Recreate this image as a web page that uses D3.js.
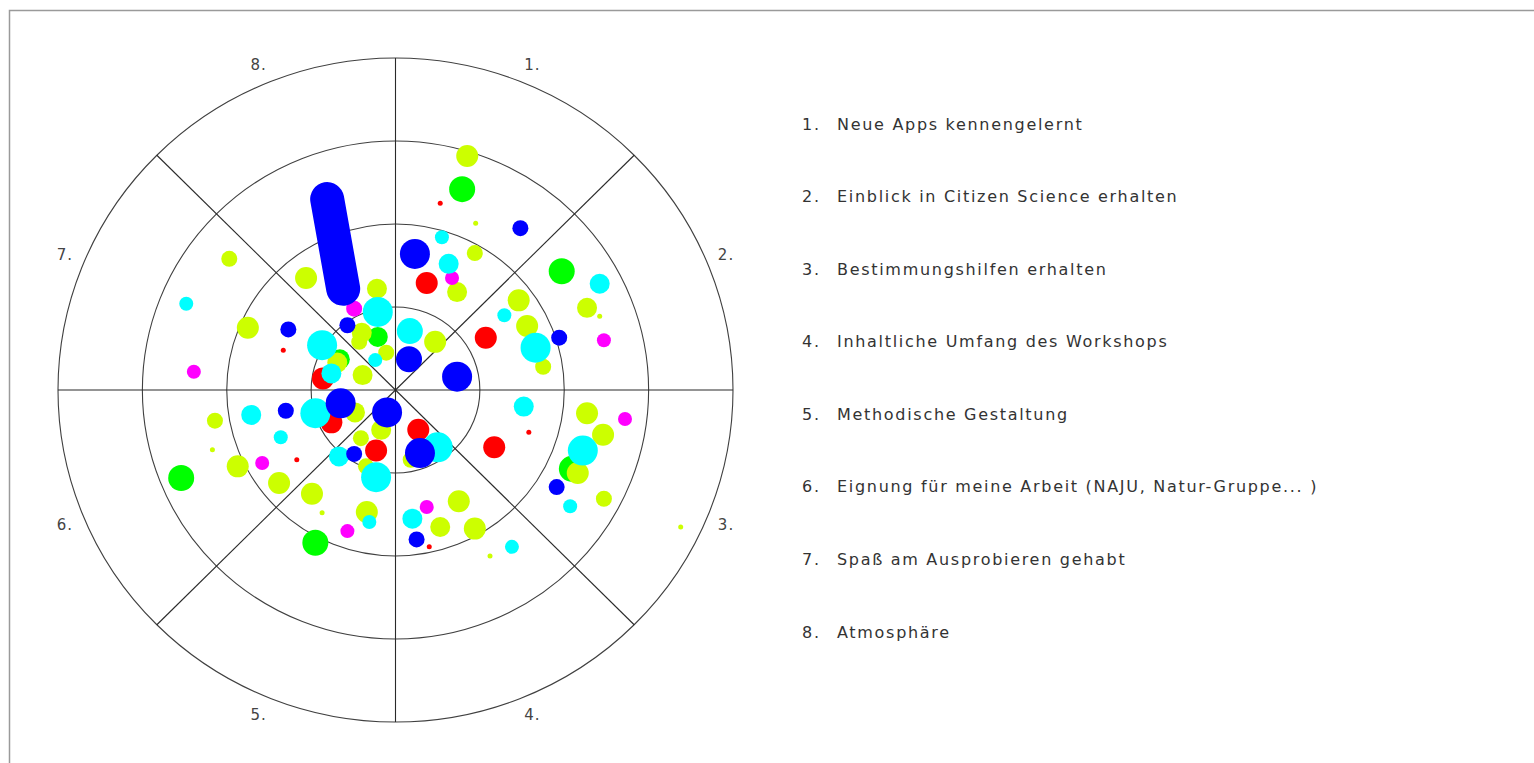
<!DOCTYPE html>
<html>
<head>
<meta charset="utf-8">
<script src="https://cdn.jsdelivr.net/npm/d3@7"></script>
<style>
  body { margin: 0; background: #fff; }
  svg { display: block; }
</style>
</head>
<body>
<div id="plot"></div>
<script>
// sector names (legend) and ring count
const sectors = ["1.", "2.", "3.", "4.", "5.", "6.", "7.", "8."];
const items = [
  "Neue Apps kennengelernt",
  "Einblick in Citizen Science erhalten",
  "Bestimmungshilfen erhalten",
  "Inhaltliche Umfang des Workshops",
  "Methodische Gestaltung",
  "Eignung für meine Arbeit (NAJU, Natur-Gruppe... )",
  "Spaß am Ausprobieren gehabt",
  "Atmosphäre"
];
const rings = [1, 2, 3, 4];

// points: [x, y, size level] in ring units (centre = 0,0)
const yellowgreen = [
  [0.85, 2.82, 5], [0.95, 2.01, 1], [0.94, 1.65, 3], [0.73, 1.18, 4], [1.46, 1.08, 5],
  [2.27, 0.99, 4], [2.42, 0.89, 1], [1.56, 0.77, 5], [1.75, 0.28, 3], [0.47, 0.58, 5],
  [-1.97, 1.58, 3], [-1.06, 1.35, 5], [-0.22, 1.22, 4], [-1.75, 0.75, 5], [-0.40, 0.69, 4],
  [-0.43, 0.58, 3], [-0.11, 0.45, 3], [-0.69, 0.33, 4], [-0.39, 0.18, 4], [-2.14, -0.37, 3],
  [-0.48, -0.27, 4], [-0.17, -0.48, 4], [-0.41, -0.58, 3], [-0.35, -0.92, 3], [-2.17, -0.72, 1],
  [-1.87, -0.92, 5], [-1.38, -1.12, 5], [-0.99, -1.25, 5], [-0.87, -1.48, 1], [-0.34, -1.47, 5],
  [2.27, -0.28, 5], [2.46, -0.54, 5], [2.16, -1.00, 5], [2.47, -1.31, 3], [3.38, -1.65, 1],
  [0.18, -0.84, 3], [0.75, -1.34, 5], [0.53, -1.65, 4], [0.94, -1.67, 5], [1.12, -2.00, 1]
];
const green = [
  [0.79, 2.42, 6], [1.97, 1.43, 6], [-0.21, 0.64, 4], [-0.66, 0.37, 4],
  [-2.54, -1.06, 6], [-0.95, -1.84, 6], [2.09, -0.95, 6]
];
const magenta = [
  [0.67, 1.35, 2], [2.47, 0.60, 2], [-0.49, 0.98, 3], [-2.39, 0.22, 2],
  [-1.58, -0.88, 2], [-0.57, -1.70, 2], [2.72, -0.35, 2], [0.37, -1.41, 2]
];
const red = [
  [0.53, 2.25, 1], [0.37, 1.29, 5], [1.07, 0.63, 5], [-1.33, 0.48, 1], [-0.86, 0.14, 5],
  [-0.76, -0.39, 5], [-1.17, -0.84, 1], [-0.23, -0.73, 5], [0.27, -0.48, 5], [1.17, -0.69, 5],
  [1.58, -0.51, 1], [0.40, -1.89, 1]
];
const cyan = [
  [0.55, 1.84, 2], [0.63, 1.52, 4], [2.42, 1.28, 4], [1.29, 0.90, 2], [1.66, 0.51, 7],
  [0.17, 0.71, 6], [-2.48, 1.04, 2], [-0.21, 0.94, 7], [-0.87, 0.54, 7], [-0.24, 0.36, 2],
  [-0.76, 0.20, 4], [1.52, -0.20, 4], [-1.71, -0.30, 4], [-0.95, -0.28, 7], [-1.36, -0.57, 2],
  [-0.67, -0.80, 4], [-0.23, -1.05, 7], [-0.31, -1.59, 2], [2.22, -0.73, 7], [2.07, -1.40, 2],
  [0.50, -0.69, 7], [0.20, -1.55, 4], [1.38, -1.89, 2]
];
const blue = [
  [1.48, 1.95, 3], [0.23, 1.64, 7], [0.16, 0.37, 6], [0.73, 0.16, 7], [1.94, 0.63, 3],
  [-0.57, 0.78, 3], [-1.27, 0.73, 3], [-0.65, -0.16, 7], [-1.30, -0.25, 3], [-0.10, -0.27, 7],
  [-0.49, -0.77, 3], [0.29, -0.76, 7], [1.91, -1.17, 3], [0.25, -1.80, 3]
];
// a smeared run of blue marks
const blueStreak = { from: [-0.81, 2.30], to: [-0.62, 1.22], level: 8 };

const series = [
  { name: "green", color: "#00ff00", data: green },
  { name: "yellowgreen", color: "#ccff00", data: yellowgreen },
  { name: "magenta", color: "#ff00ff", data: magenta },
  { name: "red", color: "#ff0000", data: red },
  { name: "cyan", color: "#00ffff", data: cyan },
  { name: "blue", color: "#0000ff", data: blue }
];

const width = 1534, height = 763;
const cx = 395.5, cy = 390, rx = 337.5, ry = 332;

const svg = d3.select("#plot").append("svg")
  .attr("width", width)
  .attr("height", height)
  .style("font-family", "'DejaVu Sans', Verdana, sans-serif");

// frame
svg.append("path")
  .attr("d", `M9.5,${height} V10.5 H${width}`)
  .attr("fill", "none")
  .attr("stroke", "#9a9a9a")
  .attr("stroke-width", 1.5);

const x = d3.scaleLinear().domain([-4, 4]).range([cx - rx, cx + rx]);
const y = d3.scaleLinear().domain([-4, 4]).range([cy + ry, cy - ry]);
const size = d3.scaleOrdinal().domain([1, 2, 3, 4, 5, 6, 7, 8]).range([2.5, 7, 8, 10, 11, 13, 15, 17]);
const angle = d3.scaleBand().domain(sectors).range([0, 2 * Math.PI]);

const grid = svg.append("g");

grid.selectAll("ellipse")
  .data(rings)
  .join("ellipse")
  .attr("cx", x(0))
  .attr("cy", y(0))
  .attr("rx", d => x(d) - x(0))
  .attr("ry", d => y(0) - y(d))
  .attr("fill", "none")
  .attr("stroke", "#404040")
  .attr("stroke-width", 1.1);

grid.selectAll("line")
  .data(sectors)
  .join("line")
  .attr("x1", x(0))
  .attr("y1", y(0))
  .attr("x2", d => x(4 * Math.sin(angle(d))))
  .attr("y2", d => y(4 * Math.cos(angle(d))))
  .attr("stroke", "#2a2a2a")
  .attr("stroke-width", 1.1);

// sector labels, half a sector past each spoke
const labelR = 4.24;
svg.append("g").selectAll("text")
  .data(sectors)
  .join("text")
  .attr("x", d => x(labelR * Math.sin(angle(d) + angle.bandwidth() / 2)))
  .attr("y", d => y(labelR * Math.cos(angle(d) + angle.bandwidth() / 2)))
  .attr("text-anchor", "middle")
  .attr("dominant-baseline", "central")
  .attr("font-size", 15)
  .attr("fill", "#444")
  .style("letter-spacing", "1px")
  .text(d => d);

// points
const pts = svg.append("g");
series.forEach(s => {
  pts.append("g").selectAll("circle")
    .data(s.data)
    .join("circle")
    .attr("cx", d => x(d[0]))
    .attr("cy", d => y(d[1]))
    .attr("r", d => size(d[2]))
    .attr("fill", s.color);
});

pts.append("line")
  .attr("x1", x(blueStreak.from[0]))
  .attr("y1", y(blueStreak.from[1]))
  .attr("x2", x(blueStreak.to[0]))
  .attr("y2", y(blueStreak.to[1]))
  .attr("stroke", "#0000ff")
  .attr("stroke-width", 2 * size(blueStreak.level))
  .attr("stroke-linecap", "round");

// legend
const legendY = d3.scalePoint().domain(d3.range(items.length)).range([124, 632]);
const legend = svg.append("g")
  .attr("font-size", 16)
  .attr("fill", "#333")
  .style("letter-spacing", "1.7px");

legend.selectAll(".num")
  .data(items)
  .join("text")
  .attr("class", "num")
  .attr("x", 802)
  .attr("y", (d, i) => legendY(i))
  .attr("dominant-baseline", "central")
  .text((d, i) => sectors[i]);

legend.selectAll(".lab")
  .data(items)
  .join("text")
  .attr("class", "lab")
  .attr("x", 837)
  .attr("y", (d, i) => legendY(i))
  .attr("dominant-baseline", "central")
  .text(d => d);
</script>
</body>
</html>
